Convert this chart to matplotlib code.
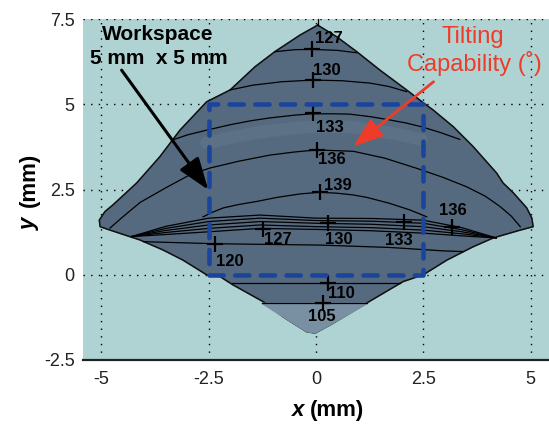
import matplotlib.pyplot as plt

plt.rcParams['font.family'] = ['Liberation Sans', 'DejaVu Sans']

# workspace outline (mm), clockwise from the top vertex
edge_x = [0.04, 0.48, 0.95, 1.49, 2.11, 2.46, 2.73, 3.2, 3.66, 4.21, 4.36, 4.6, 4.91, 5.03, 5.06,
          4.76, 4.13, 3.66, 3.05, 2.5, 2.03, 1.18, 0.4, -0.02, -0.22, -0.77, -1.23, -1.93, -2.24,
          -2.55, -3.1, -3.57, -4.1, -4.8, -5.03, -5.05, -4.92, -4.73, -4.18, -3.64, -3.17, -2.55,
          -2.0, -1.42, -0.96, -0.37]
edge_y = [7.32, 6.98, 6.54, 6.0, 5.42, 5.08, 4.83, 4.34, 3.76, 2.98, 2.69, 2.4, 1.96, 1.66, 1.41,
          1.31, 1.08, 0.82, 0.43, 0.0, -0.2, -0.83, -1.42, -1.71, -1.67, -1.23, -0.79, -0.3, -0.05,
          0.0, 0.43, 0.73, 1.02, 1.31, 1.41, 1.6, 1.85, 2.05, 2.69, 3.46, 4.24, 5.07,
          5.42, 6.1, 6.54, 7.03]

# lighter tip below the 105 line
tip_x = [1.2, 0.4, -0.02, -0.22, -0.77, -1.26]
tip_y = [-0.84, -1.42, -1.71, -1.67, -1.23, -0.84]

# tilting capability contours (deg)
upper = {
    127: ([-0.96, -0.5, -0.1, 0.5, 0.95], [6.54, 6.6, 6.61, 6.58, 6.51]),
    130: ([-2.0, -1.47, -0.8, -0.07, 0.6, 1.26, 1.7, 2.11], [5.42, 5.56, 5.66, 5.71, 5.69, 5.62, 5.52, 5.37]),
    133: ([-3.35, -3.0, -2.55, -2.0, -1.5, -1.07, -0.5, -0.1, 0.4, 0.79, 1.3, 1.72, 2.1, 2.46, 2.9, 3.35],
          [3.95, 4.1, 4.24, 4.4, 4.52, 4.6, 4.68, 4.72, 4.72, 4.71, 4.63, 4.54, 4.45, 4.34, 4.17, 3.97]),
    136: ([-4.8, -4.5, -4.1, -3.5, -2.94, -2.47, -1.8, -1.07, -0.5, 0.02, 0.87, 1.6, 2.35, 2.95, 3.51,
           3.95, 4.29, 4.55, 4.76],
          [1.37, 1.7, 2.12, 2.55, 2.93, 3.13, 3.33, 3.51, 3.6, 3.66, 3.62, 3.42, 3.12, 2.86, 2.58,
           2.3, 2.0, 1.72, 1.41]),
    139: ([-2.63, -2.4, -2.16, -1.8, -1.38, -0.9, -0.37, 0.09, 0.5, 0.87, 1.18, 1.7, 2.19, 2.58],
          [1.7, 1.84, 1.96, 2.06, 2.15, 2.27, 2.37, 2.42, 2.39, 2.34, 2.27, 2.1, 1.9, 1.7]),
}
ridge_x = [-4.3, -3.5, -2.5, -1.3, 0.0, 1.3, 2.5, 3.4, 4.2]
ridge_y = [
    [1.12, 1.42, 1.66, 1.75, 1.66, 1.65, 1.6, 1.38, 1.08],
    [1.12, 1.36, 1.56, 1.66, 1.59, 1.57, 1.51, 1.32, 1.08],
    [1.12, 1.30, 1.46, 1.56, 1.51, 1.48, 1.41, 1.26, 1.08],
    [1.12, 1.24, 1.36, 1.46, 1.41, 1.38, 1.31, 1.2, 1.08],
    [1.12, 1.18, 1.26, 1.36, 1.33, 1.29, 1.22, 1.14, 1.08],
]
lower = {
    120: ([-4.02, -2.35, 0.09, 1.72, 2.97, 3.42], [0.97, 0.91, 0.87, 0.8, 0.7, 0.68]),
    110: ([-1.95, 1.95], [-0.23, -0.23]),
    105: ([-1.26, 1.2], [-0.84, -0.84]),
}

# contour labels: text, "+" position, label centre
labels = ['127', '130', '133', '136', '139', '127', '130', '133', '136', '120', '110', '105']
mark_x = [-0.1, -0.07, -0.07, 0.02, 0.09, -1.23, 0.29, 2.04, 3.16, -2.35, 0.29, 0.17]
mark_y = [6.61, 5.71, 4.73, 3.66, 2.42, 1.35, 1.51, 1.56, 1.41, 0.91, -0.23, -0.84]
lab_x = [0.29, 0.25, 0.33, 0.37, 0.52, -0.88, 0.52, 1.94, 3.19, -2.0, 0.6, 0.13]
lab_y = [6.93, 6.0, 4.32, 3.37, 2.63, 1.04, 1.04, 1.0, 1.88, 0.38, -0.54, -1.21]

box_x = [-2.5, 2.5, 2.5, -2.5, -2.5]
box_y = [0, 0, 5, 5, 0]

fig = plt.figure(figsize=(5.49, 4.25), dpi=100)
ax = fig.add_axes([83 / 549, 65 / 425, 466 / 549, 341 / 425])
ax.set_facecolor('#aed3d2')
ax.set_xlim(-5.43, 5.43)
ax.set_ylim(-2.5, 7.5)

ax.fill(edge_x, edge_y, color='#566a7f', zorder=2)
ax.plot(edge_x + edge_x[:1], edge_y + edge_y[:1], color='#111', lw=1.1, zorder=3)
ax.fill(tip_x, tip_y, color='#7990a2', zorder=3.5)
# faint light band between 133 and 136
bx, by = upper[133]
ax.plot(bx[2:-2], [v - 0.38 for v in by[2:-2]], color='#5e7288', lw=9, alpha=0.8, zorder=2.5,
        solid_capstyle='round')

for lv, (xs, ys) in upper.items():
    ax.plot(xs, ys, color='k', lw=0.9, zorder=4)
for ys in ridge_y:
    ax.plot(ridge_x, ys, color='k', lw=0.9, zorder=4)
for lv, (xs, ys) in lower.items():
    ax.plot(xs, ys, color='k', lw=0.9, zorder=4)
ax.plot([0.04, 0.04], [7.32, 7.5], color='k', lw=0.9, zorder=4, clip_on=False)

ax.plot(mark_x, mark_y, '+', color='k', ms=11, mew=1.6, zorder=5)
for t, x, y in zip(labels, lab_x, lab_y):
    ax.text(x, y, t, fontsize=12, fontweight='bold', ha='center', va='center', zorder=6)

ax.plot(box_x, box_y, color='#1b449c', lw=3.3, dashes=(3.1, 2.5), dash_capstyle='round', zorder=7)

ax.annotate('', xy=(-2.51, 2.49), xytext=(-4.53, 6.0),
            arrowprops=dict(arrowstyle='-|>,head_length=1.4,head_width=0.5', mutation_scale=14,
                            lw=2.2, color='k', shrinkA=0, shrinkB=0), zorder=8)
ax.annotate('', xy=(0.87, 3.76), xytext=(2.74, 5.66),
            arrowprops=dict(arrowstyle='-|>,head_length=1.4,head_width=0.5', mutation_scale=13,
                            lw=2.0, color='#ee3b2a', shrinkA=0, shrinkB=0), zorder=8)

fig.text(157.5 / 549, 1 - 40 / 425, 'Workspace', fontsize=15, fontweight='bold', ha='center', va='baseline')
fig.text(159 / 549, 1 - 64 / 425, '5 mm  x 5 mm', fontsize=15, fontweight='bold', ha='center', va='baseline')
fig.text(473 / 549, 1 - 43 / 425, 'Tilting', fontsize=17, color='#ee3b2a', ha='center', va='baseline')
fig.text(474 / 549, 1 - 71 / 425, 'Capability (\u02da)', fontsize=17, color='#ee3b2a', ha='center', va='baseline')

ax.set_xticks([-5, -2.5, 0, 2.5, 5])
ax.set_xticklabels(['-5', '-2.5', '0', '2.5', '5'])
ax.set_yticks([-2.5, 0, 2.5, 5, 7.5])
ax.set_yticklabels(['-2.5', '0', '2.5', '5', '7.5'])
ax.tick_params(length=0, labelsize=13, labelcolor='#222')
ax.tick_params(axis='x', pad=8)
ax.tick_params(axis='y', pad=6)
ax.grid(True, color='k', linestyle=(0, (1, 4.5)), lw=1.0)
ax.set_axisbelow(True)
for s in ['top', 'right', 'left']:
    ax.spines[s].set_visible(False)
ax.spines['bottom'].set_linewidth(1.6)
ax.spines['bottom'].set_color('#222')

fig.text(292 / 549, 1 - 416 / 425, 'x', fontsize=16, fontweight='bold', style='italic', ha='left', va='baseline')
fig.text(310 / 549, 1 - 416 / 425, '(mm)', fontsize=16, fontweight='bold', ha='left', va='baseline')
fig.text(35 / 549, 1 - 230 / 425, 'y', fontsize=16, fontweight='bold', style='italic', rotation=90,
         rotation_mode='anchor', ha='left', va='baseline')
fig.text(35 / 549, 1 - 207 / 425, '(mm)', fontsize=16, fontweight='bold', rotation=90,
         rotation_mode='anchor', ha='left', va='baseline')

fig.savefig('out.png', dpi=100)
